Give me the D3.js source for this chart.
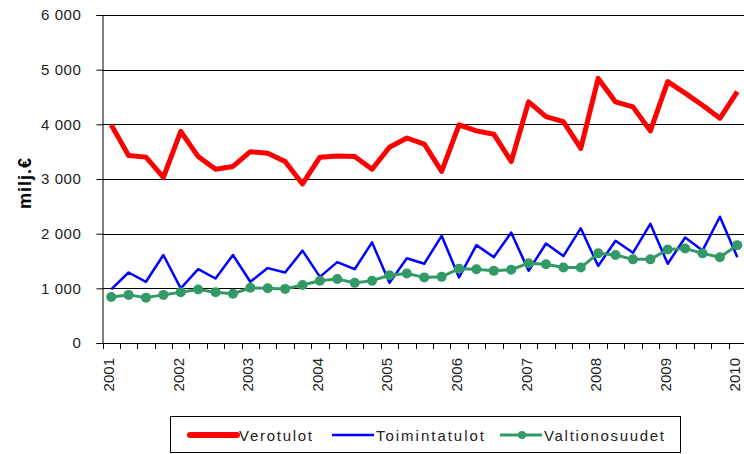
<!DOCTYPE html>
<html>
<head>
<meta charset="utf-8">
<script src="https://cdn.jsdelivr.net/npm/d3@7"></script>
<style>
  body { margin: 0; background: #fff; }
  svg { display: block; font-family: "Liberation Sans", Arial, sans-serif; }
</style>
</head>
<body>
<div id="chart"></div>
<script>
// quarters 2001 Q1 .. 2010 Q1
var years = d3.range(2001, 2011);
var quarters = [];
years.forEach(function(y) {
	[1, 2, 3, 4].forEach(function(q) {
		if(y < 2010 || q == 1) quarters.push(y + ' Q' + q);
	});
});

var yTicks = [0, 1000, 2000, 3000, 4000, 5000, 6000];

var verotulot = [3990, 3430, 3400, 3030, 3870, 3410, 3180, 3230, 3500, 3470, 3320, 2910,
	3400, 3420, 3410, 3180, 3580, 3750, 3640, 3140, 3990, 3880, 3820, 3320,
	4410, 4140, 4050, 3560, 4840, 4410, 4320, 3880, 4780, 4570, 4350, 4110, 4600];

var toimintatulot = [980, 1290, 1120, 1610, 1000, 1350, 1180, 1610, 1120, 1370, 1290, 1690,
	1210, 1480, 1350, 1840, 1100, 1550, 1450, 1960, 1200, 1790, 1570, 2020,
	1320, 1820, 1590, 2100, 1410, 1870, 1650, 2180, 1450, 1930, 1690, 2310, 1570];

var valtionosuudet = [840, 880, 830, 880, 930, 980, 930, 900, 1010, 1000, 990, 1060,
	1140, 1170, 1100, 1140, 1240, 1270, 1200, 1210, 1360, 1350, 1320, 1340,
	1460, 1440, 1380, 1380, 1640, 1610, 1530, 1530, 1710, 1730, 1640, 1570, 1790];

var series = [
	{name: 'Verotulot', values: verotulot, color: '#ff0000', width: 5, marker: false},
	{name: 'Toimintatulot', values: toimintatulot, color: '#0000ff', width: 2.5, marker: false},
	{name: 'Valtionosuudet', values: valtionosuudet, color: '#339966', width: 3, marker: true}
];

var W = 744, H = 454;
var plot = {left: 102.5, right: 746, top: 15, bottom: 343};

var svg = d3.select('#chart').append('svg')
	.attr('width', W)
	.attr('height', H);

var x = d3.scaleBand()
	.domain(quarters)
	.range([plot.left, plot.right])
	.padding(0);

var y = d3.scaleLinear()
	.domain([0, 6000])
	.range([plot.bottom, plot.top]);

var cx = function(i) { return x(quarters[i]) + x.bandwidth() / 2; };
var fmt = function(v) { return d3.format(',')(v).replace(',', ' '); };

// gridlines
svg.append('g')
	.selectAll('line')
	.data(yTicks.filter(function(d) { return d > 0; }))
	.enter()
		.append('line')
			.attr('x1', plot.left)
			.attr('x2', plot.right)
			.attr('y1', function(d) { return Math.round(y(d)) + 0.5; })
			.attr('y2', function(d) { return Math.round(y(d)) + 0.5; })
			.attr('stroke', '#000')
			.attr('stroke-width', 1);

// y axis
var yAxis = svg.append('g')
	.attr('transform', 'translate(' + plot.left + ',0)')
	.call(d3.axisLeft(y).tickValues(yTicks).tickFormat(fmt).tickSize(6).tickPadding(15));
yAxis.select('.domain').attr('stroke', '#000');
yAxis.selectAll('.tick line').attr('stroke', '#000');
yAxis.selectAll('text')
	.attr('font-size', '15px')
	.attr('letter-spacing', '0.6px')
	.attr('fill', '#222')
	.attr('font-family', '"Liberation Sans", Arial, sans-serif');

// x axis: ticks at category boundaries
var xg = svg.append('g');
xg.append('line')
	.attr('x1', plot.left)
	.attr('x2', plot.right)
	.attr('y1', plot.bottom + 0.5)
	.attr('y2', plot.bottom + 0.5)
	.attr('stroke', '#000');
xg.selectAll('.xtick')
	.data(quarters)
	.enter()
		.append('line')
			.attr('class', 'xtick')
			.attr('x1', function(d) { return Math.round(x(d)) + 0.5; })
			.attr('x2', function(d) { return Math.round(x(d)) + 0.5; })
			.attr('y1', plot.bottom)
			.attr('y2', plot.bottom + 6)
			.attr('stroke', '#000');

xg.selectAll('.xlabel')
	.data(quarters.filter(function(d) { return /Q1$/.test(d); }))
	.enter()
		.append('text')
			.attr('class', 'xlabel')
			.attr('transform', function(d) {
				return 'translate(' + (cx(quarters.indexOf(d)) + 3) + ',' + (plot.bottom + 15) + ') rotate(-90)';
			})
			.attr('text-anchor', 'end')
			.attr('font-size', '15px')
			.attr('fill', '#222')
			.text(function(d) { return d.slice(0, 4); });

// y title
svg.append('text')
	.attr('transform', 'translate(31,' + 183 + ') rotate(-90)')
	.attr('text-anchor', 'middle')
	.attr('font-size', '18px')
	.attr('font-weight', 'bold')
	.attr('letter-spacing', '1px')
	.text('milj.€');

// lines
var line = d3.line()
	.x(function(d, i) { return cx(i); })
	.y(function(d) { return y(d); });

series.forEach(function(s) {
	svg.append('path')
		.datum(s.values)
		.attr('d', line)
		.attr('fill', 'none')
		.attr('stroke', s.color)
		.attr('stroke-width', s.width)
		.attr('stroke-linejoin', 'round');
	if(s.marker) {
		svg.append('g')
			.selectAll('circle')
			.data(s.values)
			.enter()
				.append('circle')
					.attr('cx', function(d, i) { return cx(i); })
					.attr('cy', function(d) { return y(d); })
					.attr('r', 5)
					.attr('fill', s.color);
	}
});

// legend
var legend = svg.append('g');
legend.append('rect')
	.attr('x', 170.5)
	.attr('y', 416.5)
	.attr('width', 510)
	.attr('height', 36)
	.attr('fill', '#fff')
	.attr('stroke', '#000');

var legendX = [190, 332, 500];
var legendTextW = [73, 108, 120];
series.forEach(function(s, i) {
	var g = legend.append('g').attr('transform', 'translate(' + legendX[i] + ',435)');
	g.append('line')
		.attr('x1', 0)
		.attr('x2', i == 0 ? 47 : 42)
		.attr('stroke', s.color)
		.attr('stroke-width', i == 0 ? 6 : s.width)
		.attr('stroke-linecap', i == 0 ? 'round' : 'butt');
	if(s.marker) {
		g.append('circle').attr('cx', 22).attr('r', 4).attr('fill', s.color);
	}
	g.append('text')
		.attr('x', i == 0 ? 49 : 44)
		.attr('y', 5.5)
		.attr('font-size', '15px')
		.attr('fill', '#222')
		.attr('textLength', legendTextW[i])
		.attr('lengthAdjust', 'spacing')
		.text(s.name);
});
</script>
</body>
</html>
